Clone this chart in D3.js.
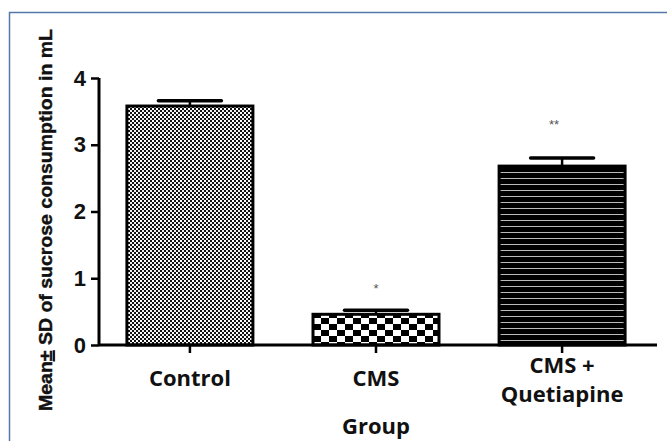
<!DOCTYPE html>
<html>
<head>
<meta charset="utf-8">
<script src="https://cdn.jsdelivr.net/npm/d3@7"></script>
<style>
  html, body { margin: 0; padding: 0; background: #fff; }
  svg { display: block; }
</style>
</head>
<body>
<svg id="chart" width="667" height="441"></svg>
<script>
const groups = ['Control', 'CMS', 'CMS + Quetiapine'];
const means = [3.58, 0.46, 2.68];
const sds = [0.08, 0.06, 0.12];
const marks = ['', '*', '**'];
const yTicks = [0, 1, 2, 3, 4];

const svg = d3.select('#chart');
const W = 667, H = 441;
const margin = { top: 78, right: 14, bottom: 96, left: 99 };

// frame border (top + left only visible)
svg.append('path')
  .attr('d', `M9.5,${H} V12.5 H${W}`)
  .attr('fill', 'none')
  .attr('stroke', '#5577aa')
  .attr('stroke-width', 1.5);

const defs = svg.append('defs');

// fine checker for Control
const p1 = defs.append('pattern').attr('id', 'pat-fine')
  .attr('patternUnits', 'userSpaceOnUse').attr('width', 4).attr('height', 4);
p1.append('rect').attr('width', 4).attr('height', 4).attr('fill', '#111');
p1.append('rect').attr('x', 0).attr('y', 0).attr('width', 2).attr('height', 2).attr('fill', '#fff');
p1.append('rect').attr('x', 2).attr('y', 2).attr('width', 2).attr('height', 2).attr('fill', '#eee');

// coarse checker for CMS
const p2 = defs.append('pattern').attr('id', 'pat-coarse')
  .attr('patternUnits', 'userSpaceOnUse').attr('width', 16).attr('height', 12)
  .attr('x', 313).attr('y', 0);
p2.append('rect').attr('width', 16).attr('height', 12).attr('fill', '#fff');
p2.append('rect').attr('x', 0).attr('y', 0).attr('width', 8).attr('height', 6).attr('fill', '#000');
p2.append('rect').attr('x', 8).attr('y', 6).attr('width', 8).attr('height', 6).attr('fill', '#000');

// horizontal lines for CMS + Quetiapine
const p3 = defs.append('pattern').attr('id', 'pat-lines')
  .attr('patternUnits', 'userSpaceOnUse').attr('width', 8).attr('height', 6);
p3.append('rect').attr('width', 8).attr('height', 6).attr('fill', '#000');
p3.append('rect').attr('x', 0).attr('y', 4).attr('width', 8).attr('height', 1).attr('fill', '#bbb');

const fills = ['url(#pat-fine)', 'url(#pat-coarse)', 'url(#pat-lines)'];

const x = d3.scaleBand()
  .domain(groups)
  .range([margin.left, W - margin.right])
  .paddingInner(0.323)
  .paddingOuter(0.15);

const y = d3.scaleLinear()
  .domain([0, 4])
  .range([H - margin.bottom, margin.top]);

const g = svg.append('g');

// bars
g.selectAll('rect.bar').data(groups).join('rect')
  .attr('class', 'bar')
  .attr('x', d => x(d))
  .attr('y', (d, i) => y(means[i]))
  .attr('width', x.bandwidth())
  .attr('height', (d, i) => y(0) - y(means[i]))
  .attr('fill', (d, i) => fills[i])
  .attr('stroke', '#000')
  .attr('stroke-width', 3);

// error bars
groups.forEach((d, i) => {
  const cx = x(d) + x.bandwidth() / 2;
  const half = x.bandwidth() / 4;
  g.append('line')
    .attr('x1', cx).attr('x2', cx)
    .attr('y1', y(means[i])).attr('y2', y(means[i] + sds[i]))
    .attr('stroke', '#000').attr('stroke-width', 2.5);
  g.append('line')
    .attr('x1', cx - half).attr('x2', cx + half)
    .attr('y1', y(means[i] + sds[i])).attr('y2', y(means[i] + sds[i]))
    .attr('stroke', '#000').attr('stroke-width', 3.5)
    .attr('stroke-linecap', 'round');
  if (marks[i]) {
    g.append('text')
      .attr('x', cx - (i === 2 ? 8 : 0))
      .attr('y', y(means[i] + sds[i]) - (i === 2 ? 29 : 17))
      .attr('text-anchor', 'middle')
      .attr('font-family', 'Liberation Sans, Arial, sans-serif')
      .attr('font-size', 13)
      .attr('fill', '#555')
      .text(marks[i]);
  }
});

// y axis
const yAxis = svg.append('g')
  .attr('transform', `translate(${margin.left},0)`)
  .call(d3.axisLeft(y).tickValues(yTicks).tickSize(8).tickPadding(5).tickFormat(d3.format('d')));
yAxis.select('.domain').attr('stroke', '#000').attr('stroke-width', 3)
  .attr('d', `M0,${y(4)}V${y(0)}`);
yAxis.selectAll('.tick line').attr('stroke', '#000').attr('stroke-width', 2.5);
yAxis.selectAll('.tick text')
  .attr('font-family', 'Liberation Sans, Arial, sans-serif')
  .attr('font-weight', 'bold')
  .attr('font-size', 22)
  .attr('fill', '#111');

// x axis
const xAxis = svg.append('g')
  .attr('transform', `translate(0,${y(0)})`)
  .call(d3.axisBottom(x).tickSize(8).tickFormat(''));
xAxis.select('.domain').attr('stroke', '#000').attr('stroke-width', 3)
  .attr('d', `M${margin.left},0H${W - 10}`);
xAxis.selectAll('.tick line').attr('stroke', '#000').attr('stroke-width', 2.5);

// x tick labels (wrapped)
const labelLines = [['Control'], ['CMS'], ['CMS +', 'Quetiapine']];
groups.forEach((d, i) => {
  const cx = x(d) + x.bandwidth() / 2;
  const lines = labelLines[i];
  const t = svg.append('text')
    .attr('text-anchor', 'middle')
    .attr('font-family', 'Open Sans, Noto Sans, sans-serif')
    .attr('font-weight', 'bold')
    .attr('font-size', 22)
    .attr('fill', '#111');
  lines.forEach((ln, j) => {
    t.append('tspan')
      .attr('x', cx)
      .attr('y', (lines.length === 1 ? 386 : 373) + j * 29)
      .text(ln);
  });
});

// x axis title
svg.append('text')
  .attr('x', x('CMS') + x.bandwidth() / 2)
  .attr('y', 434)
  .attr('text-anchor', 'middle')
  .attr('font-family', 'Open Sans, Noto Sans, sans-serif')
  .attr('font-weight', 'bold')
  .attr('font-size', 22)
  .attr('fill', '#111')
  .text('Group');

// y axis title
const yt = svg.append('text')
  .attr('transform', `translate(52,${(28 + 412) / 2}) rotate(-90)`)
  .attr('text-anchor', 'middle')
  .attr('font-family', 'Liberation Sans, Arial, sans-serif')
  .attr('font-weight', 'bold')
  .attr('font-size', 19)
  .attr('textLength', 382)
  .attr('lengthAdjust', 'spacingAndGlyphs')
  .attr('fill', '#111')
  .attr('stroke', '#111')
  .attr('stroke-width', 0.4);
yt.append('tspan').text('Mean');
yt.append('tspan').attr('text-decoration', 'underline').text('±');
yt.append('tspan').text(' SD of sucrose consumption in mL');
</script>
</body>
</html>
